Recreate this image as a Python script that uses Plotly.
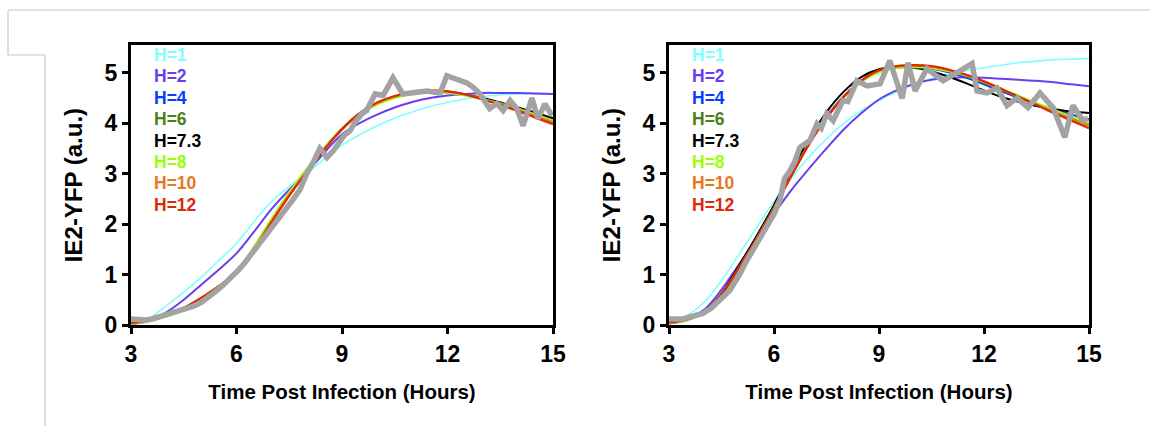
import plotly.graph_objects as go

W, H = 1150, 426

# ---------------- data ----------------
t_model = [3, 3.5, 4, 4.5, 5, 5.5, 6, 6.5, 7, 7.5, 8, 8.5, 9, 9.5, 10, 10.5, 11, 11.5, 12, 12.5, 13, 13.5, 14, 14.5, 15]

labels = ["H=1", "H=2", "H=4", "H=6", "H=7.3", "H=8", "H=10", "H=12"]
colors = ["#80ffff", "#6a3df0", "#0a3cff", "#4e7f1a", "#000000", "#9cff0a", "#e8781c", "#dc2a0a"]

# Left panel model fits
L_h1 = [0.02, 0.13, 0.38, 0.65, 0.95, 1.28, 1.62, 2.05, 2.45, 2.75, 3.0, 3.3, 3.56, 3.77, 3.95, 4.1, 4.22, 4.33, 4.41, 4.48, 4.53, 4.56, 4.58, 4.58, 4.58]
L_h2 = [0.02, 0.08, 0.25, 0.5, 0.8, 1.1, 1.42, 1.85, 2.3, 2.68, 3.02, 3.42, 3.78, 4.0, 4.17, 4.31, 4.42, 4.5, 4.55, 4.58, 4.6, 4.6, 4.6, 4.59, 4.58]
L_h4 = [0.03, 0.08, 0.18, 0.32, 0.52, 0.76, 1.03, 1.52, 2.08, 2.6, 3.07, 3.5, 3.88, 4.18, 4.39, 4.52, 4.6, 4.63, 4.62, 4.57, 4.49, 4.4, 4.3, 4.19, 4.07]
L_h6 = [0.03, 0.08, 0.18, 0.32, 0.52, 0.76, 1.03, 1.52, 2.08, 2.6, 3.07, 3.5, 3.88, 4.18, 4.39, 4.52, 4.6, 4.63, 4.62, 4.57, 4.49, 4.39, 4.29, 4.17, 4.05]
L_h73 = [0.03, 0.08, 0.18, 0.33, 0.53, 0.77, 1.04, 1.53, 2.09, 2.61, 3.08, 3.51, 3.89, 4.19, 4.4, 4.53, 4.61, 4.63, 4.62, 4.57, 4.5, 4.41, 4.31, 4.21, 4.1]
L_h8 = [0.02, 0.07, 0.17, 0.31, 0.51, 0.76, 1.04, 1.55, 2.11, 2.63, 3.1, 3.52, 3.88, 4.17, 4.37, 4.5, 4.58, 4.61, 4.6, 4.55, 4.48, 4.39, 4.29, 4.17, 4.05]
L_h10 = [0.03, 0.09, 0.19, 0.33, 0.53, 0.77, 1.03, 1.51, 2.06, 2.58, 3.05, 3.49, 3.88, 4.19, 4.4, 4.53, 4.61, 4.64, 4.63, 4.57, 4.48, 4.38, 4.27, 4.14, 4.02]
L_h12 = [0.04, 0.1, 0.2, 0.34, 0.54, 0.77, 1.02, 1.49, 2.04, 2.56, 3.04, 3.48, 3.88, 4.2, 4.41, 4.54, 4.62, 4.65, 4.63, 4.57, 4.47, 4.36, 4.24, 4.11, 3.98]

# Right panel model fits
R_h1 = [0.05, 0.18, 0.45, 0.88, 1.4, 1.93, 2.45, 2.92, 3.33, 3.69, 4.0, 4.25, 4.45, 4.62, 4.76, 4.88, 4.97, 5.04, 5.1, 5.15, 5.2, 5.23, 5.26, 5.27, 5.28]
R_h2 = [0.03, 0.1, 0.3, 0.7, 1.2, 1.7, 2.2, 2.68, 3.1, 3.5, 3.88, 4.2, 4.47, 4.65, 4.78, 4.86, 4.9, 4.91, 4.9, 4.88, 4.86, 4.84, 4.81, 4.77, 4.73]
R_h4 = [0.05, 0.1, 0.25, 0.6, 1.15, 1.73, 2.34, 2.99, 3.61, 4.13, 4.54, 4.84, 5.03, 5.1, 5.11, 5.08, 5.01, 4.9, 4.77, 4.63, 4.5, 4.38, 4.27, 4.17, 4.08]
R_h6 = [0.05, 0.1, 0.25, 0.6, 1.15, 1.72, 2.33, 2.98, 3.6, 4.12, 4.53, 4.83, 5.02, 5.1, 5.12, 5.1, 5.03, 4.93, 4.8, 4.66, 4.52, 4.38, 4.24, 4.11, 3.99]
R_h73 = [0.05, 0.1, 0.26, 0.62, 1.18, 1.76, 2.38, 3.05, 3.68, 4.22, 4.63, 4.92, 5.07, 5.12, 5.1, 5.03, 4.92, 4.79, 4.65, 4.52, 4.42, 4.34, 4.28, 4.23, 4.2]
R_h8 = [0.04, 0.09, 0.24, 0.58, 1.12, 1.7, 2.32, 2.97, 3.59, 4.11, 4.52, 4.82, 5.01, 5.09, 5.11, 5.09, 5.03, 4.94, 4.82, 4.68, 4.54, 4.4, 4.26, 4.13, 4.0]
R_h10 = [0.05, 0.1, 0.25, 0.6, 1.14, 1.71, 2.32, 2.97, 3.59, 4.11, 4.53, 4.84, 5.04, 5.12, 5.14, 5.12, 5.05, 4.95, 4.82, 4.67, 4.52, 4.37, 4.22, 4.08, 3.95]
R_h12 = [0.05, 0.11, 0.26, 0.6, 1.13, 1.7, 2.31, 2.96, 3.58, 4.1, 4.53, 4.85, 5.05, 5.13, 5.15, 5.13, 5.06, 4.96, 4.83, 4.68, 4.52, 4.36, 4.2, 4.05, 3.9]

# Measured data (gray)
L_t = [3.0, 3.2, 3.4, 3.6, 3.8, 4.0, 4.2, 4.4, 4.6, 4.8, 5.0, 5.2, 5.4, 5.6, 5.8, 6.0, 6.2, 6.4, 6.6, 6.8,
       7.0, 7.2, 7.4, 7.6, 7.8, 8.0, 8.2, 8.37, 8.57, 8.75, 8.9, 9.05, 9.23, 9.4, 9.57, 9.7, 9.94, 10.17, 10.45, 10.73,
       10.95, 11.2, 11.42, 11.6, 11.79, 11.98, 12.25, 12.55, 12.75, 12.92, 13.2, 13.4, 13.58, 13.78, 13.97, 14.15, 14.4, 14.57, 14.77, 14.97]
L_y = [0.12, 0.1, 0.1, 0.12, 0.16, 0.2, 0.24, 0.3, 0.34, 0.38, 0.45, 0.54, 0.66, 0.78, 0.9, 1.05, 1.2, 1.38, 1.55, 1.75,
       1.9, 2.1, 2.3, 2.48, 2.68, 3.0, 3.25, 3.5, 3.32, 3.45, 3.6, 3.75, 3.85, 4.05, 4.19, 4.25, 4.58, 4.55, 4.9, 4.58,
       4.6, 4.62, 4.64, 4.62, 4.6, 4.94, 4.86, 4.8, 4.7, 4.58, 4.29, 4.39, 4.25, 4.45, 4.29, 3.95, 4.5, 4.09, 4.38, 4.15]

R_t = [3.0, 3.2, 3.4, 3.6, 3.8, 3.97, 4.2, 4.37, 4.55, 4.74, 4.9, 5.03, 5.2, 5.4, 5.6, 5.8, 6.0, 6.17, 6.3, 6.46,
       6.6, 6.74, 6.9, 7.03, 7.23, 7.35, 7.51, 7.69, 7.97, 8.11, 8.37, 8.66, 9.03, 9.31, 9.66, 9.83, 10.03, 10.37, 10.83, 11.31,
       11.66, 11.8, 12.09, 12.37, 12.66, 12.94, 13.26, 13.6, 13.97, 14.31, 14.54, 14.83, 14.97]
R_y = [0.12, 0.13, 0.12, 0.16, 0.2, 0.23, 0.33, 0.43, 0.56, 0.69, 0.85, 1.02, 1.25, 1.48, 1.7, 1.94, 2.2, 2.47, 2.9, 3.06,
       3.25, 3.52, 3.6, 3.66, 3.99, 3.9, 4.19, 4.05, 4.45, 4.43, 4.84, 4.74, 4.78, 5.24, 4.49, 5.2, 4.64, 5.08, 4.84, 5.04,
       5.18, 4.64, 4.6, 4.7, 4.35, 4.5, 4.31, 4.6, 4.31, 3.72, 4.35, 4.05, 4.1]

x_ticks = [3, 6, 9, 12, 15]
y_ticks = [0, 1, 2, 3, 4, 5]
x_title = "Time Post Infection (Hours)"
y_title = "IE2-YFP (a.u.)"

# ---------------- figure ----------------
FONT = "Arial, 'Liberation Sans', sans-serif"
fig = go.Figure()

left_models = [L_h1, L_h2, L_h4, L_h6, L_h73, L_h8, L_h10, L_h12]
right_models = [R_h1, R_h2, R_h4, R_h6, R_h73, R_h8, R_h10, R_h12]
widths = [1.6, 2, 2, 2, 2, 2.2, 2.2, 2.2]

for ax, models, tt, yy in [("", left_models, L_t, L_y), ("2", right_models, R_t, R_y)]:
    for lab, col, w, ys in zip(labels, colors, widths, models):
        fig.add_trace(go.Scatter(x=t_model, y=ys, mode="lines", name=lab,
                                 line=dict(color=col, width=w, shape="spline", smoothing=1.0),
                                 xaxis="x" + ax, yaxis="y" + ax, showlegend=False))
    fig.add_trace(go.Scatter(x=tt, y=yy, mode="lines", name="data",
                             line=dict(color="#a3a3a3", width=5.5),
                             xaxis="x" + ax, yaxis="y" + ax, showlegend=False))

def px(x):
    return x / W

def py(y):
    return 1 - y / H

axis_common = dict(showline=True, linewidth=3, linecolor="black", mirror=True,
                   ticks="outside", ticklen=6, tickwidth=3, tickcolor="black",
                   showgrid=False, zeroline=False, automargin=False,
                   tickfont=dict(family=FONT, size=23, color="black", weight="bold"))

xt_font = dict(family=FONT, size=20.5, color="black", weight="bold")
yt_font = dict(family=FONT, size=24, color="black", weight="bold")

ydom = [py(325), py(45)]
fig.update_layout(
    width=W, height=H, autosize=False, margin=dict(l=0, r=0, t=0, b=0, pad=0, autoexpand=False),
    paper_bgcolor="white", plot_bgcolor="white",
    xaxis=dict(domain=[px(131), px(553)], range=[3, 15], tickvals=x_ticks, anchor="y",
               title=dict(text=x_title, font=xt_font, standoff=20), **axis_common),
    yaxis=dict(domain=ydom, range=[0, 5.55], tickvals=y_ticks, anchor="x",
               title=dict(text=y_title, font=yt_font, standoff=16), **axis_common),
    xaxis2=dict(domain=[px(669), px(1089)], range=[3, 15], tickvals=x_ticks, anchor="y2",
                title=dict(text=x_title, font=xt_font, standoff=20), **axis_common),
    yaxis2=dict(domain=ydom, range=[0, 5.55], tickvals=y_ticks, anchor="x2",
                title=dict(text=y_title, font=yt_font, standoff=16), **axis_common),
)

# legend-like colored labels
ann = []
for x0 in (152, 690):
    for i, (lab, col) in enumerate(zip(labels, colors)):
        ann.append(dict(x=px(x0), y=py(55 + 21.4 * i), xref="paper", yref="paper",
                        xanchor="left", yanchor="middle", showarrow=False, text=lab,
                        font=dict(family=FONT, size=17.5, color=col, weight="bold")))
fig.update_layout(annotations=ann)

# page frame lines
frame = "#c8c8c8"
shapes = [
    dict(type="line", xref="paper", yref="paper", x0=px(8), x1=1, y0=py(10), y1=py(10), line=dict(color=frame, width=1.2)),
    dict(type="line", xref="paper", yref="paper", x0=px(8), x1=px(8), y0=py(10), y1=py(55), line=dict(color=frame, width=1.2)),
    dict(type="line", xref="paper", yref="paper", x0=px(8), x1=px(45), y0=py(55), y1=py(55), line=dict(color=frame, width=1.2)),
    dict(type="line", xref="paper", yref="paper", x0=px(45), x1=px(45), y0=py(55), y1=0, line=dict(color=frame, width=1.2)),
]
fig.update_layout(shapes=shapes)

fig.write_html("out.html")
